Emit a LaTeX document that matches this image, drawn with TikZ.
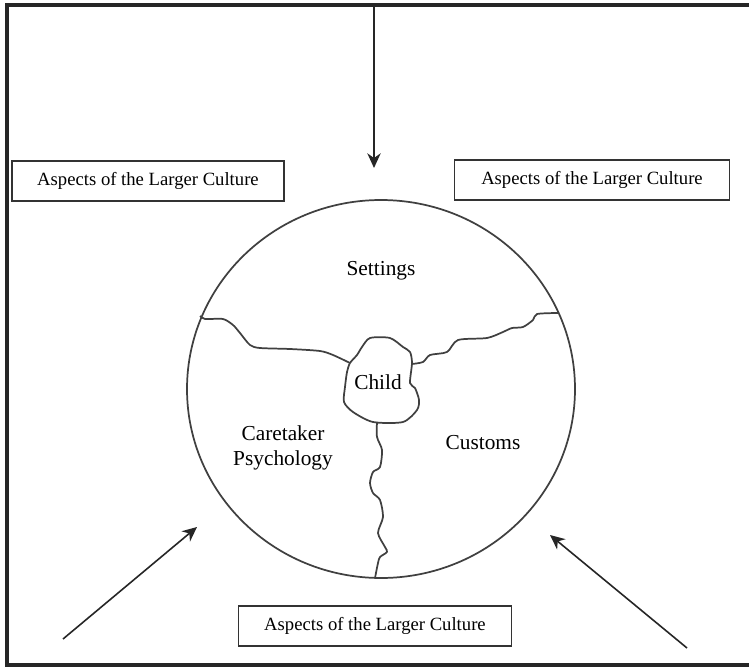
\documentclass[tikz,border=0pt]{standalone}
\usepackage{fontspec}
\setmainfont{Liberation Serif}
\usetikzlibrary{arrows.meta}

\begin{document}
\begin{tikzpicture}
[
  x=0.75pt, y=-0.75pt,
  culture/.style = {draw=black!80, line width=1.2pt, inner sep=0pt, minimum height=30pt, font=\fontsize{14}{16}\selectfont},
  part/.style = {font=\fontsize{16}{19}\selectfont, align=center, inner sep=0pt},
  border/.style = {draw=black!75, line width=1.3pt, line join=round},
  push/.style = {-{Stealth[length=11pt,width=10pt,inset=3.5pt]}, line width=1.2pt, draw=black!85},
]
\useasboundingbox (0,0) rectangle (749,667);

\coordinate (O) at (381,389); %center of circle
\coordinate (T) at (374,5); %top of frame
\coordinate (L) at (63,639); %lower left
\coordinate (R) at (687,648); %lower right

%frame, open on the right
\draw[line width=3pt, black!85]
  (749,5) -- (7,5) -- (7,665) -- (749,665);

%the circle
\draw[border] (O) ellipse [x radius=194, y radius=189];

%boxes
\node[culture, minimum width=204pt] (boxL) at (148,181) {Aspects of the Larger Culture};
\node[culture, minimum width=206pt] (boxR) at (592,180) {Aspects of the Larger Culture};
\node[culture, minimum width=205pt] (boxB) at (375,626) {Aspects of the Larger Culture};

%labels
\node[part] (settings) at (381,271) {Settings};
\node[part] (child) at (378,382) {Child};
\node[part] (care) at (283,448) {Caretaker\\Psychology};
\node[part] (customs) at (483,443) {Customs};

%arrow ends
\coordinate (tT) at (374,168);
\coordinate (tL) at (197,527);
\coordinate (tR) at (550,535);

\draw[push] (T) -- (tT);
\draw[push] (L) -- (tL);
\draw[push] (R) -- (tR);

%child blob
\draw[border] plot[smooth cycle, tension=0.45] coordinates
  {(350,363) (347,372) (345,387) (344,402) (353,412) (373,422) (403,422)
   (417,410) (419,400) (415,388) (410,383) (412,363) (410,352) (403,347)
   (390,338) (370,338) (362,347) (357,355)};

%left border
\draw[border] plot[smooth, tension=0.45] coordinates
  {(200,316) (205,319) (223,319) (233,325) (240,333) (250,345) (260,348)
   (290,349) (320,351) (333,355) (350,363)};
%right border
\draw[border] plot[smooth, tension=0.45] coordinates
  {(412,364) (423,362) (430,355) (447,352) (458,340) (487,338) (503,332)
   (512,328) (523,327) (533,320) (537,314) (558,313)};
%lower border
\draw[border] plot[smooth, tension=0.45] coordinates
  {(377,422) (377,437) (382,450) (380,467) (373,472) (370,483) (373,493)
   (380,500) (383,517) (378,533) (385,547) (387,552) (380,557) (378,563)
   (375,578)};
\end{tikzpicture}
\end{document}
